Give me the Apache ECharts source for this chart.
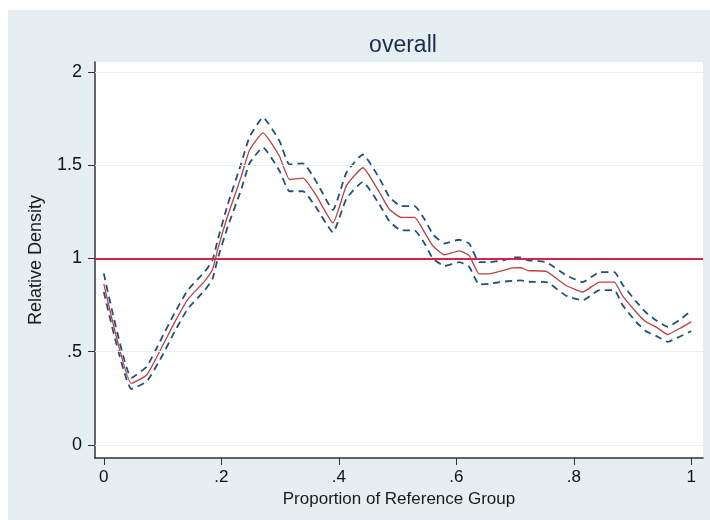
<!DOCTYPE html>
<html>
<head>
<meta charset="utf-8">
<title>overall</title>
<script src="https://cdn.jsdelivr.net/npm/echarts@6.0.0/dist/echarts.min.js"></script>
<style>
  body { margin: 0; background: #fff; }
  #main { position: absolute; left: 8px; top: 10px; width: 702px; height: 510px; }
</style>
</head>
<body>
<div id="main"></div>
<script type="text/javascript">
// proportion of reference group
var xs = [0, 0.047, 0.073, 0.098, 0.121, 0.143, 0.172, 0.185, 0.194, 0.211, 0.234, 0.248,
  0.271, 0.299, 0.316, 0.339, 0.362, 0.390, 0.413, 0.441, 0.469, 0.486, 0.506, 0.529,
  0.546, 0.560, 0.580, 0.605, 0.622, 0.639, 0.656, 0.679, 0.696, 0.710, 0.722, 0.753,
  0.787, 0.815, 0.844, 0.869, 0.883, 0.906, 0.923, 0.940, 0.960, 0.980, 1.0];
// relative density estimate
var density = [0.864, 0.33, 0.375, 0.52, 0.66, 0.78, 0.88, 0.94, 1.05, 1.23, 1.44, 1.58,
  1.673, 1.548, 1.424, 1.43, 1.335, 1.19, 1.39, 1.486, 1.355, 1.264, 1.22, 1.22,
  1.14, 1.068, 1.019, 1.04, 1.015, 0.917, 0.917, 0.935, 0.949, 0.95, 0.935, 0.93,
  0.855, 0.82, 0.873, 0.873, 0.80, 0.713, 0.66, 0.633, 0.592, 0.624, 0.66];
// confidence bands
var upper = [0.92, 0.36, 0.42, 0.57, 0.71, 0.83, 0.93, 0.99, 1.10, 1.29, 1.51, 1.65,
  1.755, 1.63, 1.504, 1.51, 1.41, 1.26, 1.46, 1.557, 1.43, 1.33, 1.28, 1.28,
  1.21, 1.13, 1.08, 1.10, 1.08, 0.98, 0.98, 0.99, 1.005, 1.006, 0.99, 0.98,
  0.91, 0.873, 0.926, 0.926, 0.86, 0.77, 0.71, 0.668, 0.633, 0.67, 0.72];
var lower = [0.82, 0.30, 0.34, 0.47, 0.61, 0.73, 0.83, 0.89, 1.00, 1.17, 1.37, 1.51,
  1.595, 1.47, 1.36, 1.36, 1.27, 1.14, 1.32, 1.41, 1.29, 1.20, 1.15, 1.15,
  1.08, 1.00, 0.96, 0.98, 0.955, 0.86, 0.864, 0.875, 0.88, 0.882, 0.875, 0.873,
  0.80, 0.775, 0.83, 0.83, 0.75, 0.66, 0.61, 0.585, 0.553, 0.58, 0.61];

var xTicks = [0, 0.2, 0.4, 0.6, 0.8, 1];
var yTicks = [0, 0.5, 1, 1.5, 2];
var refLine = 1;

function pairs(ys) {
  return xs.map(function (x, i) { return [x, ys[i]]; });
}
function fmt(v) {
  var s = String(+v.toFixed(2));
  return s.indexOf('0.') === 0 ? s.slice(1) : s;
}

var chart = echarts.init(document.getElementById('main'));
var font = 'Liberation Sans, Arial, sans-serif';

var gridLines = yTicks.filter(function (v) { return v !== refLine; }).map(function (v) {
  return { yAxis: v, lineStyle: { color: '#e8f0f1', width: 1, type: 'solid' } };
});
gridLines.push({ yAxis: refLine, lineStyle: { color: '#d4234c', width: 2, type: 'solid' } });

var option = {
  backgroundColor: '#e5eef0',
  animation: false,
  title: {
    text: 'overall',
    left: 390,
    top: 19,
    textAlign: 'center',
    textStyle: { color: '#1d2b4c', fontSize: 23, fontWeight: 'normal', fontFamily: font }
  },
  grid: {
    left: 87, right: 7, top: 52, bottom: 62,
    show: true, backgroundColor: '#ffffff', borderWidth: 0
  },
  xAxis: {
    type: 'value',
    min: -0.015,
    max: 1.02,
    name: 'Proportion of Reference Group',
    nameLocation: 'middle',
    nameGap: 24,
    nameTextStyle: { color: '#1a1a1a', fontSize: 17, fontFamily: font },
    axisLine: { show: true, onZero: false, lineStyle: { color: '#333', width: 1.5 } },
    axisTick: { show: true, length: 7, customValues: xTicks, lineStyle: { color: '#333' } },
    axisLabel: { customValues: xTicks, formatter: fmt, color: '#111', fontSize: 17, margin: 11, fontFamily: font },
    splitLine: { show: false }
  },
  yAxis: {
    type: 'value',
    min: -0.07,
    max: 2.053,
    name: 'Relative Density',
    nameLocation: 'middle',
    nameGap: 50,
    nameTextStyle: { color: '#1a1a1a', fontSize: 18, fontFamily: font },
    axisLine: { show: true, onZero: false, lineStyle: { color: '#333', width: 1.5 } },
    axisTick: { show: true, length: 7, customValues: yTicks, lineStyle: { color: '#333' } },
    axisLabel: { customValues: yTicks, formatter: fmt, color: '#111', fontSize: 18, margin: 13, fontFamily: font },
    splitLine: { show: false }
  },
  series: [
    {
      name: 'ref',
      type: 'line',
      data: [],
      z: 1,
      markLine: { silent: true, symbol: 'none', label: { show: false }, data: gridLines }
    },
    {
      name: 'upper',
      type: 'line',
      data: pairs(upper),
      showSymbol: false,
      smooth: 0.15,
      z: 2,
      lineStyle: { color: '#21507f', width: 1.8, type: [7, 5] }
    },
    {
      name: 'lower',
      type: 'line',
      data: pairs(lower),
      showSymbol: false,
      smooth: 0.15,
      z: 2,
      lineStyle: { color: '#21507f', width: 1.8, type: [7, 5] }
    },
    {
      name: 'density',
      type: 'line',
      data: pairs(density),
      showSymbol: false,
      smooth: 0.15,
      z: 3,
      lineStyle: { color: '#b8433f', width: 1.3 }
    }
  ]
};
chart.setOption(option);
</script>
</body>
</html>
